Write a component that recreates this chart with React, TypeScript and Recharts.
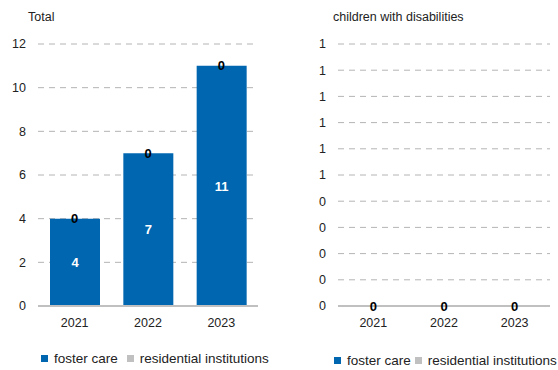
import React from "react";
import {
  Bar,
  CartesianGrid,
  ComposedChart,
  LabelList,
  Line,
  XAxis,
  YAxis,
} from "recharts";

const years = ["2021", "2022", "2023"];
const totalFoster = [4, 7, 11];
const totalResidential = [0, 0, 0];
const disabledFoster = [0, 0, 0];
const disabledResidential = [0, 0, 0];
const totalTicks = [0, 2, 4, 6, 8, 10, 12];
const disabledTicks = [0, 0.1, 0.2, 0.3, 0.4, 0.5, 0.6, 0.7, 0.8, 0.9, 1];

const seriesNames = ["foster care", "residential institutions"];
const BLUE = "#0066b0";
const GRAY = "#c0c0c0";
const FONT = "'Liberation Sans', Arial, sans-serif";

function buildRows(foster: number[], residential: number[]) {
  return years.map((y, i) => ({
    year: y,
    foster: foster[i],
    residential: residential[i],
    // stack top, used only to place the residential value label
    top: foster[i] + residential[i],
  }));
}

const totalData = buildRows(totalFoster, totalResidential);
const disabledData = buildRows(disabledFoster, disabledResidential);

function LegendRow({ left, top, gap }: { left: number; top: number; gap: number }) {
  const colors = [BLUE, GRAY];
  return (
    <div
      style={{
        position: "absolute",
        left,
        top,
        display: "flex",
        alignItems: "center",
        fontFamily: FONT,
        fontSize: 13.5,
        color: "#222",
        whiteSpace: "nowrap",
      }}
    >
      {seriesNames.map((n, i) => (
        <span key={n} style={{ display: "flex", alignItems: "center", marginRight: gap }}>
          <span
            style={{
              width: 7,
              height: 7,
              background: colors[i],
              display: "inline-block",
              marginRight: 6,
            }}
          />
          {n}
        </span>
      ))}
    </div>
  );
}

interface PanelProps {
  title: string;
  data: typeof totalData;
  ticks: number[];
  domain: [number, number];
  yWidth: number;
  rightMargin: number;
  titleLeft: number;
  legendLeft: number;
  legendTop: number;
  legendGap: number;
  fmt?: (v: number) => string;
}

function Panel({
  title,
  data,
  ticks,
  domain,
  yWidth,
  rightMargin,
  titleLeft,
  legendLeft,
  legendTop,
  legendGap,
  fmt,
}: PanelProps) {
  return (
    <div style={{ position: "relative", width: 279, height: 370 }}>
      <div
        style={{
          position: "absolute",
          left: titleLeft,
          top: 10,
          fontFamily: FONT,
          fontSize: 12.5,
          color: "#222",
          whiteSpace: "nowrap",
        }}
      >
        {title}
      </div>
      <ComposedChart
        width={279}
        height={370}
        data={data}
        margin={{ top: 44, right: rightMargin, left: 0, bottom: 34 }}
        barCategoryGap="16%"
      >
        <CartesianGrid
          vertical={false}
          stroke="#b4b4b4"
          strokeDasharray="6 5"
        />
        <XAxis
          dataKey="year"
          height={30}
          tickLine={false}
          tickSize={0}
          tickMargin={12}
          axisLine={{ stroke: "#c0c0c0", strokeWidth: 2 }}
          tick={{ fill: "#222", fontSize: 12.5, fontFamily: FONT }}
        />
        <YAxis
          width={yWidth}
          domain={domain}
          ticks={ticks}
          interval={0}
          axisLine={false}
          tickLine={false}
          tickSize={0}
          tickMargin={12}
          tickFormatter={fmt}
          tick={{ fill: "#222", fontSize: 12.5, fontFamily: FONT }}
        />
        <Bar
          dataKey="foster"
          name={seriesNames[0]}
          stackId="a"
          fill={BLUE}
          barSize={50}
          isAnimationActive={false}
        >
          <LabelList
            dataKey="foster"
            position="center"
            fill="#fff"
            fontWeight="bold"
            fontSize={13}
            fontFamily={FONT}
          />
        </Bar>
        <Bar
          dataKey="residential"
          name={seriesNames[1]}
          stackId="a"
          fill={GRAY}
          barSize={50}
          isAnimationActive={false}
        />
        <Line
          dataKey="top"
          stroke="none"
          dot={false}
          activeDot={false}
          legendType="none"
          isAnimationActive={false}
        >
          <LabelList
            dataKey="residential"
            position="center"
            fill="#000"
            fontWeight="bold"
            fontSize={13}
            fontFamily={FONT}
          />
        </Line>
      </ComposedChart>
      <LegendRow left={legendLeft} top={legendTop} gap={legendGap} />
    </div>
  );
}

export default function App() {
  return (
    <div
      style={{
        position: "absolute",
        left: 0,
        top: 0,
        width: 558,
        height: 370,
        display: "flex",
        background: "#fff",
        overflow: "hidden",
      }}
    >
      <Panel
        title="Total"
        data={totalData}
        ticks={totalTicks}
        domain={[0, 12]}
        yWidth={38}
        rightMargin={21}
        titleLeft={28}
        legendLeft={41}
        legendTop={351}
        legendGap={9}
      />
      <Panel
        title="children with disabilities"
        data={disabledData}
        ticks={disabledTicks}
        domain={[0, 1]}
        yWidth={59}
        rightMargin={8}
        titleLeft={54}
        legendLeft={55}
        legendTop={353}
        legendGap={4}
        fmt={(v: number) => String(Math.round(v))}
      />
    </div>
  );
}
